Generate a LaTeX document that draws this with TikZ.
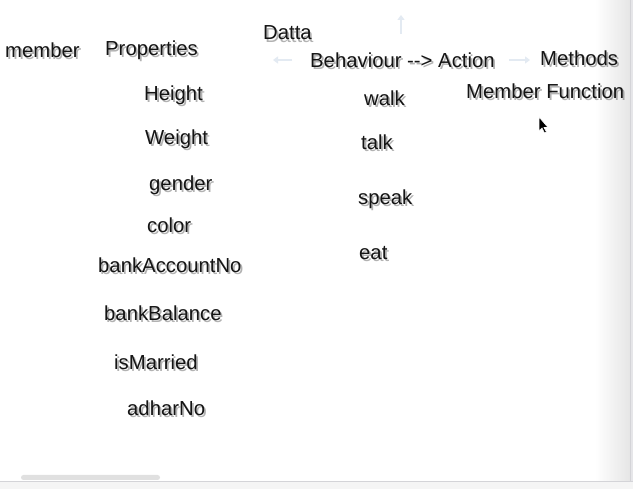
\documentclass[tikz,border=0pt]{standalone}
\usepackage{fontspec}
\setmainfont{Liberation Sans}
\usetikzlibrary{arrows.meta}
\definecolor{faint}{HTML}{E3EAF2}
\definecolor{uigray}{HTML}{E6E6E9}
\definecolor{uiline}{HTML}{D4D4D8}
\tikzset{
  txt/.style={anchor=west, inner sep=0pt, font=\fontsize{20.3}{23}\selectfont, text=black!92},
  shadowtxt/.style={txt, text=black, opacity=0.3},
  faintarrow/.style={draw=faint, line width=2.2pt, -{Triangle[length=5pt,width=7pt]}},
}
\newcommand\lbl[4]{%
  \node[shadowtxt, xshift=1.8pt, yshift=-2.3pt] (#1s) at (#2,#3) {#4};
  \node[txt] (#1) at (#2,#3) {#4};}
\begin{document}
\begin{tikzpicture}[x=1pt,y=-1pt]
\useasboundingbox (0,0) rectangle (633,489);
\fill[white] (0,0) rectangle (633,489);
% right edge shading
\shade[left color=white, right color=black!10] (595,0) rectangle (630,481);
\fill[uigray] (630,0) rectangle (633,489);
\draw[uiline, line width=0.8pt] (630,0) -- (630,481);
% bottom strip and scrollbar
\fill[black!4] (0,481) rectangle (633,489);
\draw[uiline, line width=0.6pt] (0,481) -- (633,481);
\fill[black!12, rounded corners=2.5pt] (21,475) rectangle (160,480);
% faint pan arrows
\coordinate (la1) at (292,60); \coordinate (la2) at (273,60);
\coordinate (ua1) at (401,34); \coordinate (ua2) at (401,15);
\coordinate (ra1) at (509,60); \coordinate (ra2) at (530,60);
\draw[faintarrow] (la1) -- (la2);
\draw[faintarrow] (ua1) -- (ua2);
\draw[faintarrow] (ra1) -- (ra2);
% labels
\lbl{member}{5}{50}{member}
\lbl{props}{105}{50}{Properties}
\lbl{datta}{263}{33}{Datta}
\lbl{beh}{310}{60}{Behaviour -{}-> Action}
\lbl{meth}{540}{58}{Methods}
\lbl{mfun}{466}{91}{Member Function}
\lbl{height}{144}{95}{Height}
\lbl{walk}{364}{98}{walk}
\lbl{weight}{145}{139}{Weight}
\lbl{talk}{361}{142}{talk}
\lbl{gender}{149}{185}{gender}
\lbl{speak}{358}{199}{speak}
\lbl{color}{147}{225}{color}
\lbl{eat}{359}{253}{eat}
\lbl{bankacc}{98}{265}{bankAccountNo}
\lbl{bankbal}{104}{313}{bankBalance}
\lbl{married}{114}{362}{isMarried}
\lbl{adhar}{127}{408}{adharNo}
% cursor
\fill[black, draw=white, line width=0.6pt] (539,117) -- (539,131) -- (542,128) -- (544.5,133) -- (546.5,132) -- (544,127.5) -- (548,127.5) -- cycle;
\end{tikzpicture}
\end{document}
